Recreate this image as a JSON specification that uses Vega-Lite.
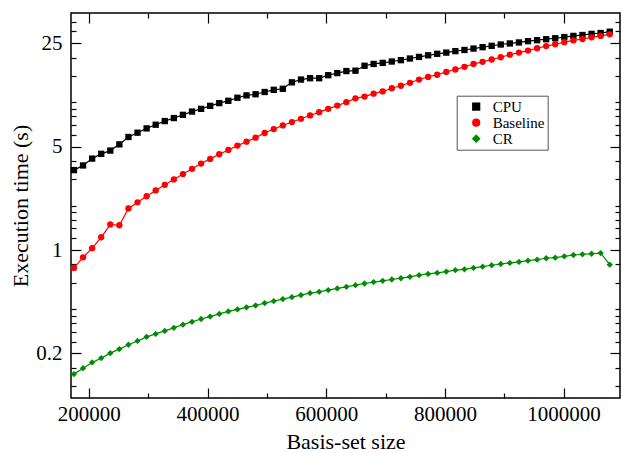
{
  "$schema": "https://vega.github.io/schema/vega-lite/v6.json",
  "width": 549,
  "height": 385,
  "autosize": {"type": "none"},
  "padding": {"left": 71, "top": 13, "right": 1, "bottom": 55},
  "background": "white",
  "config": {"view": {"stroke": "black", "strokeWidth": 1.5}, "font": "Liberation Serif"},
  "data": {"values": [
    {"x": 175000, "CPU": 3.47, "Baseline": 0.757, "CR": 0.145},
    {"x": 190300, "CPU": 3.73, "Baseline": 0.893, "CR": 0.159},
    {"x": 205600, "CPU": 4.15, "Baseline": 1.03, "CR": 0.174},
    {"x": 220900, "CPU": 4.47, "Baseline": 1.22, "CR": 0.186},
    {"x": 236200, "CPU": 4.70, "Baseline": 1.49, "CR": 0.201},
    {"x": 251500, "CPU": 5.18, "Baseline": 1.47, "CR": 0.214},
    {"x": 266800, "CPU": 5.81, "Baseline": 1.91, "CR": 0.229},
    {"x": 282100, "CPU": 6.21, "Baseline": 2.10, "CR": 0.243},
    {"x": 297400, "CPU": 6.64, "Baseline": 2.31, "CR": 0.259},
    {"x": 312700, "CPU": 7.03, "Baseline": 2.53, "CR": 0.271},
    {"x": 328000, "CPU": 7.44, "Baseline": 2.76, "CR": 0.284},
    {"x": 343300, "CPU": 7.80, "Baseline": 3.00, "CR": 0.298},
    {"x": 358600, "CPU": 8.20, "Baseline": 3.26, "CR": 0.313},
    {"x": 373900, "CPU": 8.63, "Baseline": 3.54, "CR": 0.327},
    {"x": 389200, "CPU": 9.00, "Baseline": 3.84, "CR": 0.342},
    {"x": 404500, "CPU": 9.43, "Baseline": 4.13, "CR": 0.355},
    {"x": 419800, "CPU": 9.84, "Baseline": 4.44, "CR": 0.370},
    {"x": 435100, "CPU": 10.2, "Baseline": 4.75, "CR": 0.385},
    {"x": 450400, "CPU": 10.7, "Baseline": 5.08, "CR": 0.397},
    {"x": 465700, "CPU": 11.1, "Baseline": 5.40, "CR": 0.410},
    {"x": 481000, "CPU": 11.3, "Baseline": 5.75, "CR": 0.422},
    {"x": 496300, "CPU": 11.7, "Baseline": 6.18, "CR": 0.438},
    {"x": 511600, "CPU": 12.1, "Baseline": 6.57, "CR": 0.452},
    {"x": 526900, "CPU": 12.3, "Baseline": 6.95, "CR": 0.466},
    {"x": 542200, "CPU": 13.6, "Baseline": 7.33, "CR": 0.481},
    {"x": 557500, "CPU": 14.2, "Baseline": 7.71, "CR": 0.496},
    {"x": 572800, "CPU": 14.5, "Baseline": 8.12, "CR": 0.512},
    {"x": 588100, "CPU": 14.5, "Baseline": 8.55, "CR": 0.522},
    {"x": 603400, "CPU": 15.2, "Baseline": 9.00, "CR": 0.536},
    {"x": 618700, "CPU": 15.7, "Baseline": 9.47, "CR": 0.550},
    {"x": 634000, "CPU": 16.2, "Baseline": 9.98, "CR": 0.564},
    {"x": 649300, "CPU": 16.3, "Baseline": 10.6, "CR": 0.579},
    {"x": 664600, "CPU": 17.6, "Baseline": 10.9, "CR": 0.594},
    {"x": 679900, "CPU": 18.1, "Baseline": 11.4, "CR": 0.607},
    {"x": 695200, "CPU": 18.4, "Baseline": 11.8, "CR": 0.619},
    {"x": 710500, "CPU": 18.8, "Baseline": 12.4, "CR": 0.632},
    {"x": 725800, "CPU": 19.2, "Baseline": 12.9, "CR": 0.645},
    {"x": 741100, "CPU": 19.7, "Baseline": 13.5, "CR": 0.659},
    {"x": 756400, "CPU": 20.2, "Baseline": 14.2, "CR": 0.676},
    {"x": 771700, "CPU": 20.7, "Baseline": 14.8, "CR": 0.690},
    {"x": 787000, "CPU": 21.2, "Baseline": 15.3, "CR": 0.700},
    {"x": 802300, "CPU": 21.6, "Baseline": 16.0, "CR": 0.715},
    {"x": 817600, "CPU": 22.1, "Baseline": 16.6, "CR": 0.731},
    {"x": 832900, "CPU": 22.5, "Baseline": 17.3, "CR": 0.741},
    {"x": 848200, "CPU": 23.0, "Baseline": 18.1, "CR": 0.757},
    {"x": 863500, "CPU": 23.5, "Baseline": 18.7, "CR": 0.772},
    {"x": 878800, "CPU": 24.0, "Baseline": 19.4, "CR": 0.789},
    {"x": 894100, "CPU": 24.5, "Baseline": 20.1, "CR": 0.805},
    {"x": 909400, "CPU": 24.9, "Baseline": 20.9, "CR": 0.818},
    {"x": 924700, "CPU": 25.3, "Baseline": 21.6, "CR": 0.831},
    {"x": 940000, "CPU": 25.8, "Baseline": 22.3, "CR": 0.847},
    {"x": 955300, "CPU": 26.2, "Baseline": 23.1, "CR": 0.861},
    {"x": 970600, "CPU": 26.6, "Baseline": 23.9, "CR": 0.880},
    {"x": 985900, "CPU": 27.0, "Baseline": 24.6, "CR": 0.888},
    {"x": 1001200, "CPU": 27.5, "Baseline": 25.4, "CR": 0.907},
    {"x": 1016500, "CPU": 28.0, "Baseline": 26.1, "CR": 0.926},
    {"x": 1031800, "CPU": 28.4, "Baseline": 26.7, "CR": 0.936},
    {"x": 1047100, "CPU": 28.9, "Baseline": 27.4, "CR": 0.944},
    {"x": 1062400, "CPU": 29.3, "Baseline": 28.0, "CR": 0.954},
    {"x": 1077700, "CPU": 29.9, "Baseline": 28.7, "CR": 0.796}
  ]},
  "transform": [{"fold": ["CPU", "Baseline", "CR"], "as": ["series", "time"]}],
  "resolve": {"axis": {"x": "independent", "y": "independent"}},
  "layer": [
    {
      "mark": {"type": "line", "strokeWidth": 1.2},
      "encoding": {
        "x": {"field": "x", "type": "quantitative",
          "scale": {"domain": [170000, 1095000], "nice": false, "zero": false},
          "axis": {"orient": "bottom", "values": [200000, 400000, 600000, 800000, 1000000], "format": "d",
            "ticks": false, "domain": false, "grid": false, "labelFlush": false, "labelOverlap": false,
            "labelFont": "Liberation Serif", "labelFontSize": 21, "labelColor": "black", "labelPadding": 5,
            "title": "Basis-set size", "titleFont": "Liberation Serif", "titleFontSize": 22, "titleFontWeight": "normal",
            "titleColor": "black", "titlePadding": 7}},
        "y": {"field": "time", "type": "quantitative",
          "scale": {"type": "log", "domain": [0.1, 40], "nice": false},
          "axis": {"orient": "left", "values": [0.2, 1, 5, 25], "format": "~g",
            "ticks": false, "domain": false, "grid": false, "labelFlush": false, "labelOverlap": false,
            "labelFont": "Liberation Serif", "labelFontSize": 21, "labelColor": "black", "labelPadding": 9,
            "title": "Execution time (s)", "titleFont": "Liberation Serif", "titleFontSize": 22, "titleFontWeight": "normal",
            "titleColor": "black", "titlePadding": 3}},
        "color": {"field": "series", "type": "nominal",
          "scale": {"domain": ["CPU", "Baseline", "CR"], "range": ["#000000", "#ff0000", "#008b00"]}},
        "detail": {"field": "series"}
      }
    },
    {
      "transform": [{"filter": "datum.series !== 'CR'"}],
      "mark": {"type": "point", "filled": true, "opacity": 1, "size": 40},
      "encoding": {
        "x": {"field": "x", "type": "quantitative",
          "axis": {"orient": "bottom", "values": [200000, 300000, 400000, 500000, 600000, 700000, 800000, 900000, 1000000],
            "labels": false, "domain": false, "grid": false, "title": null, "tickColor": "black", "tickWidth": 1.2,
            "tickSize": {"condition": {"test": "datum.value % 200000 === 0", "value": -10}, "value": -5}}},
        "y": {"field": "time", "type": "quantitative",
          "axis": {"orient": "left", "values": [0.12, 0.16, 0.2, 0.24, 0.28, 0.32, 0.36, 0.4, 0.6, 0.8, 1, 1.2, 1.4, 1.6, 1.8, 2, 3, 4, 5, 6, 7, 8, 9, 10, 15, 20, 25, 30, 35],
            "labels": false, "domain": false, "grid": false, "title": null, "tickColor": "black", "tickWidth": 1.2,
            "tickSize": {"condition": {"test": "indexof([0.2, 1, 5, 25], datum.value) >= 0", "value": -10}, "value": -5}}},
        "color": {"field": "series", "type": "nominal",
          "legend": {"orient": "none", "legendX": 385.7, "legendY": 82.7, "title": null, "direction": "vertical",
            "padding": 3, "strokeColor": "#555555", "fillColor": "white", "symbolSize": 45, "symbolOffset": 9,
            "labelOffset": 9, "clipHeight": 16, "rowPadding": 0,
            "labelFont": "Liberation Serif", "labelFontSize": 15, "labelColor": "black", "labelBaseline": "middle"}},
        "shape": {"field": "series", "type": "nominal",
          "scale": {"domain": ["CPU", "Baseline", "CR"], "range": ["square", "circle", "diamond"]}}
      }
    },
    {
      "transform": [{"filter": "datum.series === 'CR'"}],
      "mark": {"type": "point", "filled": true, "opacity": 1, "size": 40},
      "encoding": {
        "x": {"field": "x", "type": "quantitative",
          "axis": {"orient": "top", "values": [200000, 300000, 400000, 500000, 600000, 700000, 800000, 900000, 1000000],
            "labels": false, "domain": false, "grid": false, "title": null, "tickColor": "black", "tickWidth": 1.2,
            "tickSize": {"condition": {"test": "datum.value % 200000 === 0", "value": -10}, "value": -5}}},
        "y": {"field": "time", "type": "quantitative",
          "axis": {"orient": "right", "values": [0.12, 0.16, 0.2, 0.24, 0.28, 0.32, 0.36, 0.4, 0.6, 0.8, 1, 1.2, 1.4, 1.6, 1.8, 2, 3, 4, 5, 6, 7, 8, 9, 10, 15, 20, 25, 30, 35],
            "labels": false, "domain": false, "grid": false, "title": null, "tickColor": "black", "tickWidth": 1.2,
            "tickSize": {"condition": {"test": "indexof([0.2, 1, 5, 25], datum.value) >= 0", "value": -10}, "value": -5}}},
        "color": {"field": "series", "type": "nominal"},
        "shape": {"field": "series", "type": "nominal"}
      }
    }
  ]
}
